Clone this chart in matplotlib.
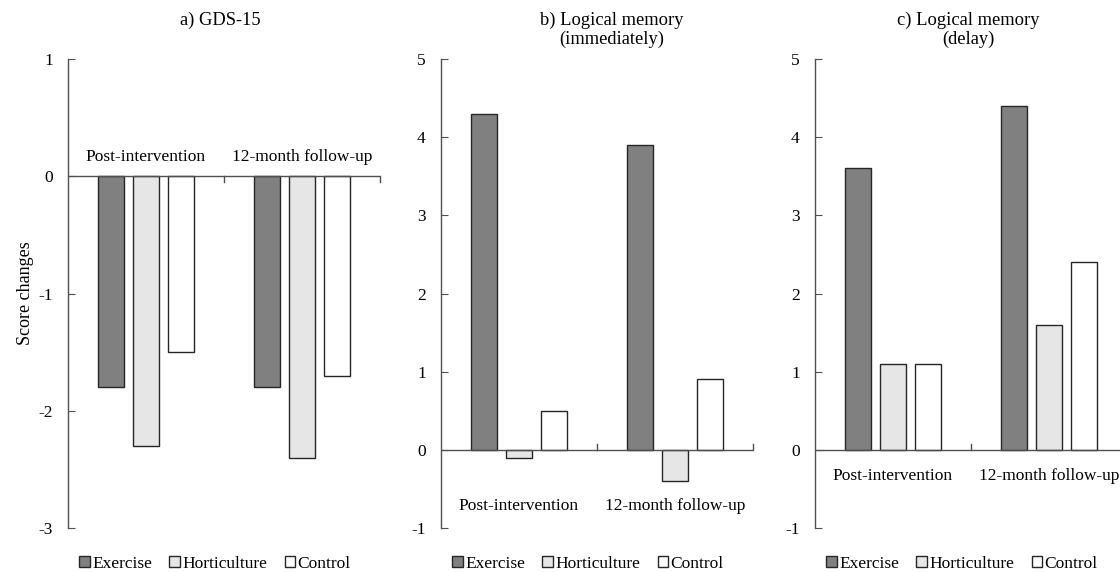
import numpy as np
import matplotlib.pyplot as plt

plt.rcParams['font.family'] = ['Liberation Serif', 'DejaVu Serif']
plt.rcParams['axes.unicode_minus'] = False

groups = ["Exercise", "Horticulture", "Control"]
periods = ["Post-intervention", "12-month follow-up"]
titles = ["a) GDS-15", "b) Logical memory\n(immediately)", "c) Logical memory\n(delay)"]

gds = [[-1.8, -1.8], [-2.3, -2.4], [-1.5, -1.7]]
lm_immediate = [[4.3, 3.9], [-0.1, -0.4], [0.5, 0.9]]
lm_delay = [[3.6, 4.4], [1.1, 1.6], [1.1, 2.4]]

colors = ["#808080", "#e6e6e6", "#ffffff"]
ylims = [(-3, 1), (-1, 5), (-1, 5)]
label_y = [0.16, -0.72, -0.33]
tick_dir = ["out", "in", "in"]
lefts = [68, 441, 815]
title_x = [220, 612, 968]

fig = plt.figure(figsize=(11.2, 5.72), dpi=100)
W, H = 1120, 572
axis_col = "#505050"
fs = 12.5

for k, data in enumerate([gds, lm_immediate, lm_delay]):
    ax = fig.add_axes([lefts[k] / W, 1 - 528 / H, 312 / W, (528 - 59) / H])
    x = np.arange(len(periods)) + 0.5
    offsets = [-0.224, 0, 0.224]
    handles = []
    for g in range(len(groups)):
        h = ax.bar(x + offsets[g], data[g], width=0.167, color=colors[g],
                   edgecolor="#262626", linewidth=1.0, zorder=2, label=groups[g])
        handles.append(h)
    ax.axhline(0, color=axis_col, lw=1.0, zorder=3)
    ax.set_xlim(0, 2)
    ax.set_ylim(*ylims[k])
    ax.set_yticks(np.arange(ylims[k][0], ylims[k][1] + 1))
    ax.set_xticks([])
    for s in ["top", "right", "bottom"]:
        ax.spines[s].set_visible(False)
    ax.spines["left"].set_color(axis_col)
    ax.spines["left"].set_linewidth(1.0)
    ax.tick_params(axis="y", direction="in", length=5, color=axis_col,
                   labelsize=fs, pad=11)
    # boundary ticks on the zero line
    sign = -1 if tick_dir[k] == "out" else 1
    dy = (ylims[k][1] - ylims[k][0]) * 6 / 469
    for bx in [1, 2]:
        ax.plot([bx, bx], [0, sign * dy], color=axis_col, lw=1.0,
                clip_on=False, zorder=3)
    for i, p in enumerate(periods):
        ax.text(x[i], label_y[k], p, ha="center", va="center", fontsize=fs)
    fig.text(title_x[k] / W, 1 - 12 / H, titles[k], ha="center", va="top",
             fontsize=13.3, linespacing=1.1)
    if k == 0:
        ax.set_ylabel("Score changes", fontsize=13, labelpad=3)
    ax.legend(handles=handles, loc="center", bbox_to_anchor=(0.471, -0.076),
              ncol=3, frameon=False, fontsize=fs, handlelength=0.6,
              handleheight=0.6, handletextpad=0.15, columnspacing=1.0)

fig.savefig("out.png", dpi=100)
